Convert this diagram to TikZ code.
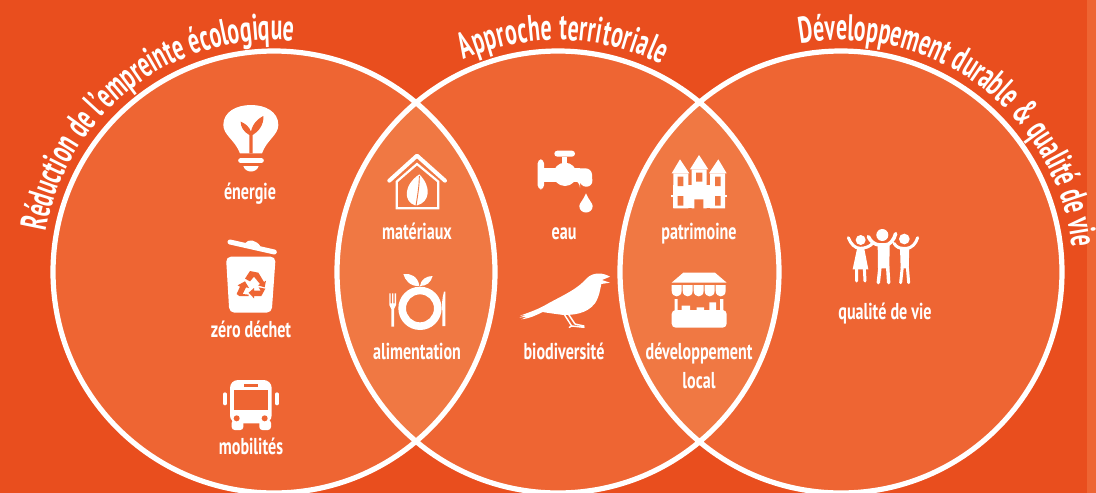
\documentclass[tikz,border=0pt]{standalone}
\usepackage{fontspec}
\setmainfont{PT Sans}
\newfontfamily\titlefont[FakeStretch=0.59]{PT Sans Bold}
\newfontfamily\labelfont[FakeStretch=0.70]{PT Sans Bold}
\usetikzlibrary{decorations.text}
\definecolor{bgor}{HTML}{E94E1E}
\definecolor{discor}{HTML}{EE6533}
\definecolor{lensor}{HTML}{F07843}
\tikzset{
  disc/.style={fill=discor},
  ring/.style={draw=white,line width=5.2pt},
  lbl/.style={text=white,font=\labelfont\fontsize{23}{23}\selectfont,inner sep=0pt,anchor=base},
  ttl/.style={decorate,decoration={text along path,raise=0pt,text align={fit to path},
     text={|\titlefont\fontsize{37}{37}\selectfont\color{white}|#1}}},
  ico/.style={fill=white,draw=none},
  cut/.style={fill=discor,draw=none},
  cutl/.style={fill=lensor,draw=none},
  wl/.style={draw=white,line cap=round,line join=round},
}
\begin{document}
\begin{tikzpicture}[x=1pt,y=-1pt]
\useasboundingbox (0,0) rectangle (1096,493);
\fill[bgor] (0,0) rectangle (1096,493);
\fill[discor] (1087,0) rectangle (1096,493);
% discs
\coordinate (ca) at (274,272);
\coordinate (cb) at (558,272);
\coordinate (cc) at (841,272);
\fill[disc] (ca) circle (221) (cb) circle (221) (cc) circle (221);
\begin{scope}\clip (ca) circle (221); \fill[lensor] (cb) circle (221);\end{scope}
\begin{scope}\clip (cb) circle (221); \fill[lensor] (cc) circle (221);\end{scope}
\draw[ring] (ca) circle (221) (cb) circle (221) (cc) circle (221);
% titles
\path[ttl={Réduction de l’empreinte écologique}] (ca) ++(190:232) arc[start angle=190,end angle=274,radius=232];
\path[ttl={Approche territoriale}] (cb) ++(246:232) arc[start angle=246,end angle=296.5,radius=232];
\path[ttl={Développement durable {\&} qualité de vie}] (cc) ++(260:232) arc[start angle=260,end angle=354,radius=232];
% labels
\node[lbl] (t1) at (250,199) {énergie};
\node[lbl] (t2) at (251,337) {zéro déchet};
\node[lbl] (t3) at (251,454) {mobilités};
\node[lbl] (t4) at (417,239) {matériaux};
\node[lbl] (t5) at (417,359) {alimentation};
\node[lbl] (t6) at (564,239) {eau};
\node[lbl] (t7) at (564,359) {biodiversité};
\node[lbl] (t8) at (699,239) {patrimoine};
\node[lbl] (t9) at (699,359) {développement};
\node[lbl] (t10) at (699,388) {local};
\node[lbl] (t11) at (885,319) {qualité de vie};
% left column icons, coordinates of the 3x crop
\begin{scope}[shift={(190,90)},scale=1/3]
  % bulb
  \fill[ico] (150,190) .. controls (135,150) and (100,135) .. (100,105)
     .. controls (100,65) and (140,45) .. (183,45)
     .. controls (226,45) and (265,65) .. (265,105)
     .. controls (265,135) and (230,150) .. (216,190) -- cycle;
  \draw[wl,line width=5pt] (152,212) -- (214,212);
  \fill[ico] (160,228) -- (206,228) .. controls (200,250) and (166,250) .. (160,228) -- cycle;
  \fill[cut] (178,190) -- (178,135) .. controls (160,125) and (152,110) .. (152,95)
     .. controls (165,100) and (178,110) .. (183,125)
     .. controls (188,100) and (205,85) .. (220,78)
     .. controls (222,105) and (205,125) .. (188,135) -- (188,190) -- cycle;
  % bin
  \draw[wl,line width=5pt] (120,456) -- (253,486);
  \fill[ico] (165,460) .. controls (175,445) and (200,450) .. (212,470) -- cycle;
  \fill[ico,rounded corners=5pt] (108,500) -- (257,500) -- (245,668) -- (118,668) -- cycle;
  \fill[cut] (165,566) -- (180,543) -- (205,548) -- (222,576) -- (228,572) -- (224,592) -- (204,586) -- (210,582) -- (192,560) -- (180,574) -- cycle;
  \fill[cut] (140,612) -- (150,590) -- (143,586) -- (165,574) -- (177,594) -- (168,592) -- (158,612) -- (176,614) -- (176,618) -- (148,618) -- cycle;
  \fill[cut] (226,596) -- (214,618) -- (192,618) -- (192,625) -- (176,608) -- (192,594) -- (192,602) -- (212,602) -- (206,592) -- cycle;
  % bus
  \fill[ico,rounded corners=8pt] (120,1000) -- (120,870) -- (245,870) -- (245,1000) -- cycle;
  \fill[ico,rounded corners=3pt] (125,990) rectangle (160,1020) (208,990) rectangle (243,1020);
  \fill[cut] (132,900) rectangle (235,960);
  \fill[cut] (162,882) rectangle (205,892);
  \fill[cut] (140,985) circle (9) (224,985) circle (9);
  \draw[wl,line width=4pt] (105,913) -- (105,940) (261,913) -- (261,940);
\end{scope}
% central icons
\begin{scope}[shift={(360,140)},scale=1/3]
  % house
  \draw[wl,line width=4pt] (88,122) -- (171,47) -- (255,122);
  \draw[wl,line width=2.2pt,line cap=butt,line join=miter] (110,125) -- (110,205) -- (235,205) -- (235,125) -- (171,72) -- cycle;
  \fill[ico] (165,196) .. controls (130,185) and (130,135) .. (178,103)
     .. controls (215,140) and (210,185) .. (172,196) -- cycle;
  \draw[draw=lensor,line width=.9pt] (168,198) .. controls (172,170) and (178,140) .. (178,108);
  % plate and food
  \fill[ico,even odd rule] (180,505) circle (65) (180,505) circle (42);
  \fill[ico] (178,438) .. controls (150,440) and (135,420) .. (130,402) .. controls (150,398) and (175,410) .. (178,438) -- cycle;
  \fill[ico] (180,438) .. controls (182,418) and (200,408) .. (218,408) .. controls (212,428) and (200,438) .. (180,438) -- cycle;
  \fill[ico] (88,460) -- (92,460) -- (92,490) -- (96,490) -- (96,460) -- (100,460) -- (100,490) -- (104,490) -- (104,460) -- (108,460) -- (108,495) -- (102,507) -- (102,560) -- (94,560) -- (94,507) -- (88,495) -- cycle;
  \fill[ico] (252,455) .. controls (246,475) and (245,495) .. (247,515) -- (247,558) -- (256,558) -- (256,455) -- cycle;
  % tap
  \fill[ico,rounded corners=3pt] (583,32) rectangle (645,50);
  \fill[ico] (605,50) rectangle (622,80);
  \fill[ico,rounded corners=4pt] (533,58) rectangle (552,148);
  \fill[ico] (552,85) rectangle (660,125);
  \fill[ico] (615,103) circle (35);
  \fill[ico,rounded corners=6pt] (640,85) -- (695,85) -- (698,140) -- (660,140) -- (660,125) -- (640,120) -- cycle;
  \fill[ico] (678,160) .. controls (670,180) and (658,190) .. (658,198) .. controls (658,224) and (698,224) .. (698,198) .. controls (698,190) and (686,180) .. (678,160) -- cycle;
  % bird
  \fill[ico] (750,410) .. controls (730,398) and (700,395) .. (680,415)
    .. controls (650,450) and (600,470) .. (560,493)
    .. controls (535,508) and (505,518) .. (480,527) -- (498,525) -- (478,533) -- (500,530) -- (484,538)
    .. controls (510,535) and (530,525) .. (548,516)
    .. controls (570,520) and (590,522) .. (610,525)
    .. controls (640,525) and (680,522) .. (705,490)
    .. controls (718,470) and (720,450) .. (724,432) -- (750,428) -- (726,420) -- cycle;
  \draw[wl,line width=1.4pt] (612,522) -- (635,558) -- (672,562) (625,522) -- (645,552) -- (672,558) (635,558) -- (628,562);
\end{scope}
% right icons
\begin{scope}[shift={(640,140)},scale=1/3]
  % castle
  \fill[ico] (100,100) rectangle (145,205) (155,88) rectangle (200,205) (210,100) rectangle (255,205);
  \fill[ico] (95,100) -- (120,58) -- (148,100) -- cycle;
  \fill[ico] (150,88) -- (177,45) -- (205,88) -- cycle;
  \fill[ico] (207,100) -- (235,58) -- (260,100) -- cycle;
  \fill[ico] (100,135) rectangle (255,205);
  \fill[ico] (93,165) rectangle (262,172);
  \fill[cutl] (113,110) rectangle (130,138) (168,98) rectangle (187,125) (225,110) rectangle (242,138)
     (113,168) rectangle (130,197) (225,168) rectangle (242,197) (163,178) rectangle (190,207);
  % market
  \fill[ico] (95,428) -- (130,398) -- (225,398) -- (260,428) -- cycle;
  \foreach \ax in {95,128,161,194,227}{
    \fill[ico] (\ax,435) -- (\ax+30,435) -- (\ax+30,452) .. controls (\ax+30,475) and (\ax,475) .. (\ax,452) -- cycle;
  }
  \fill[ico] (104,477) rectangle (113,515) (240,477) rectangle (250,515);
  \fill[ico,rounded corners=4pt] (95,510) rectangle (260,563);
  \fill[ico] (125,497) rectangle (150,512) (170,502) rectangle (192,512) (208,487) rectangle (228,512);
  % people
  \fill[ico] (662,300) circle (15) (727,285) circle (18) (793,297) circle (16);
  \draw[wl,line width=3pt] (625,293) .. controls (632,312) and (645,325) .. (660,325) .. controls (675,325) and (690,320) .. (700,308);
  \fill[ico] (652,322) -- (672,322) -- (685,388) -- (638,388) -- cycle;
  \draw[wl,line width=3pt] (650,385) -- (650,423) (673,385) -- (675,423);
  \draw[wl,line width=3.6pt] (685,290) .. controls (692,305) and (705,315) .. (720,315) -- (735,315) .. controls (750,315) and (762,300) .. (767,281);
  \fill[ico] (713,312) -- (749,312) -- (748,385) -- (714,385) -- cycle;
  \draw[wl,line width=3.4pt] (720,380) -- (715,428) (743,380) -- (746,428);
  \draw[wl,line width=3pt] (762,310) .. controls (770,322) and (778,325) .. (790,325) -- (800,325) .. controls (815,325) and (828,310) .. (833,293);
  \fill[ico] (780,322) -- (808,322) -- (806,385) -- (782,385) -- cycle;
  \draw[wl,line width=3pt] (787,380) -- (782,428) (802,380) -- (806,428);
\end{scope}
\end{tikzpicture}
\end{document}
